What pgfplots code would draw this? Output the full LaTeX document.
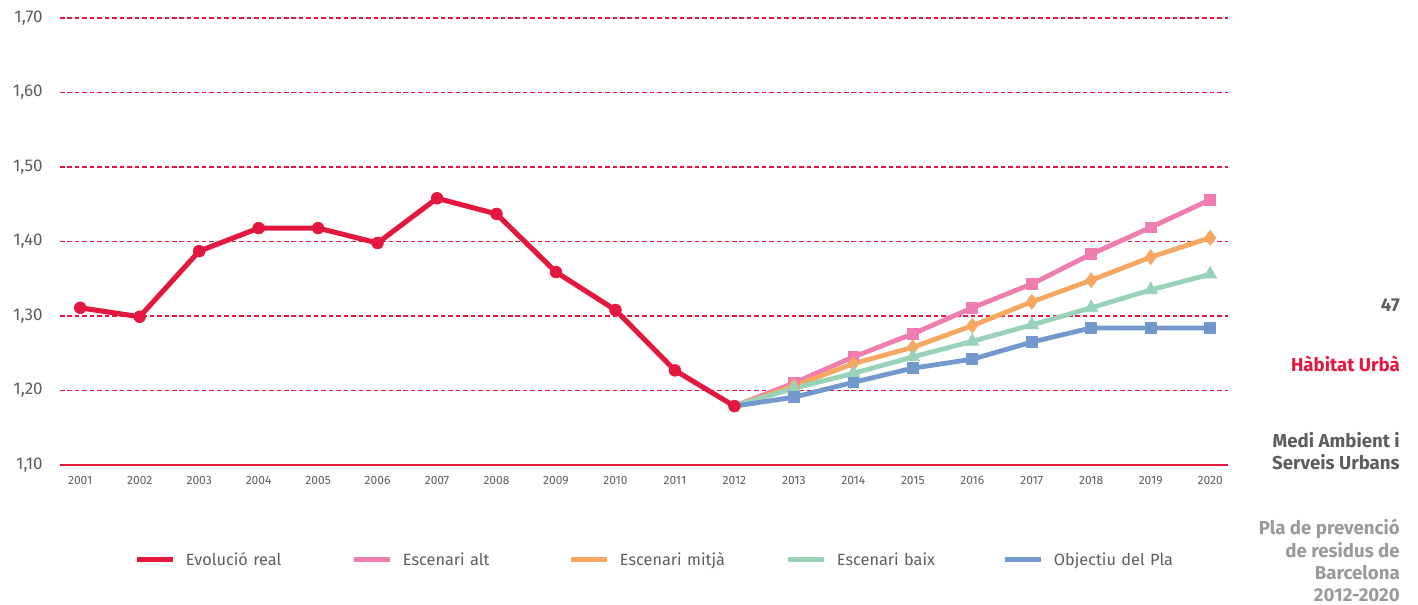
\documentclass[border=0pt]{standalone}
\usepackage{fontspec}
\setmainfont{Fira Sans}
\usepackage{pgfplots}
\pgfplotsset{compat=1.18}
\definecolor{cred}{HTML}{E4173E}
\definecolor{cpink}{HTML}{EF7DB0}
\definecolor{corange}{HTML}{F6A762}
\definecolor{cgreen}{HTML}{99D3B7}
\definecolor{cblue}{HTML}{7399CC}
\definecolor{tgray}{HTML}{5E5E5E}
\definecolor{lgray}{HTML}{9A9A9A}
\begin{document}
\begin{tikzpicture}
\path[use as bounding box] (0,0) rectangle (1063.5pt,-453.75pt);
\begin{axis}[
  at={(45pt,-348.75pt)}, anchor=south west,
  scale only axis, width=876pt, height=335.25pt,
  xmin=2000.66, xmax=2020.3, ymin=1.1, ymax=1.7,
  axis x line*=bottom, axis y line*=left,
  separate axis lines,
  x axis line style={cred, line width=1pt, -},
  y axis line style={draw=none},
  major tick length=0pt,
  ytick={1.1,1.2,1.3,1.4,1.5,1.6,1.7},
  xtick={2001,2002,2003,2004,2005,2006,2007,2008,2009,2010,2011,2012,2013,2014,2015,2016,2017,2018,2019,2020},
  xticklabels={2001,2002,2003,2004,2005,2006,2007,2008,2009,2010,2011,2012,2013,2014,2015,2016,2017,2018,2019,2020},
  /pgf/number format/assume math mode=true,
  yticklabel={\pgfmathprintnumber[fixed,fixed zerofill,precision=2,use comma]{\tick}},
  yticklabel style={font=\fontsize{12.75pt}{14pt}\selectfont, text=tgray, anchor=east, inner sep=0pt, xshift=-12.75pt},
  xticklabel style={font=\fontsize{9pt}{10pt}\selectfont, text=tgray, anchor=north, inner sep=0pt, yshift=-8.5pt},
  ymajorgrids,
  grid style={cred, line width=0.9pt, dash pattern=on 3.4pt off 2.2pt},
  legend image code/.code={\draw[#1] (0pt,0pt) -- (27pt,0pt);},
  legend columns=5,
  legend cell align=left,
  legend style={at={(0.0634,-0.2125)}, anchor=west, draw=none, fill=none, inner sep=0pt,
    font=\fontsize{12.2pt}{14pt}\selectfont, text=tgray,
    nodes={text width=124pt, inner sep=0pt},
    /tikz/every odd column/.append style={column sep=8pt}},
]
\addlegendimage{cred, line width=3.75pt}\addlegendentry{Evolució real}
\addlegendimage{cpink, line width=3.75pt}\addlegendentry{Escenari alt}
\addlegendimage{corange, line width=3.75pt}\addlegendentry{Escenari mitjà}
\addlegendimage{cgreen, line width=3.75pt}\addlegendentry{Escenari baix}
\addlegendimage{cblue, line width=3.75pt}\addlegendentry{Objectiu del Pla}

\addplot[cpink, line width=3.6pt, mark=square*, mark size=4.1pt, mark options={solid, line width=0.5pt}, mark indices={2,3,4,5,6,7,8,9}, forget plot] coordinates {
(2012,1.179) (2013,1.210) (2014,1.245) (2015,1.276) (2016,1.311) (2017,1.343) (2018,1.383) (2019,1.419) (2020,1.456)};
\addplot[corange, line width=3.6pt, mark=diamond*, mark size=5.6pt, mark options={solid, line width=0.5pt}, mark indices={2,3,4,5,6,7,8,9}, forget plot] coordinates {
(2012,1.179) (2013,1.206) (2014,1.236) (2015,1.258) (2016,1.287) (2017,1.319) (2018,1.348) (2019,1.379) (2020,1.405)};
\addplot[cgreen, line width=3.6pt, mark=triangle*, mark size=5.8pt, mark options={solid, line width=0.5pt}, mark indices={2,3,4,5,6,7,8,9}, forget plot] coordinates {
(2012,1.179) (2013,1.203) (2014,1.223) (2015,1.245) (2016,1.266) (2017,1.288) (2018,1.311) (2019,1.335) (2020,1.356)};
\addplot[cblue, line width=3.6pt, mark=square*, mark size=4.1pt, mark options={solid, line width=0.5pt}, mark indices={2,3,4,5,6,7,8,9}, forget plot] coordinates {
(2012,1.179) (2013,1.191) (2014,1.211) (2015,1.230) (2016,1.242) (2017,1.265) (2018,1.284) (2019,1.284) (2020,1.284)};
\addplot[cred, line width=3.8pt, mark=*, mark size=4.4pt, mark options={solid, line width=0.5pt}, forget plot] coordinates {
(2001,1.311) (2002,1.299) (2003,1.387) (2004,1.418) (2005,1.418) (2006,1.398) (2007,1.458) (2008,1.437) (2009,1.359) (2010,1.308) (2011,1.227) (2012,1.179)};
\end{axis}
\begin{scope}[every node/.style={anchor=base east, inner sep=0pt, font=\fontsize{14pt}{16pt}\selectfont\bfseries}]
\node[text=tgray] at (1050pt,-234pt) {47};
\node[text=cred] at (1050pt,-279pt) {Hàbitat Urbà};
\node[text=tgray] at (1050pt,-336pt) {Medi Ambient i};
\node[text=tgray] at (1050pt,-352.5pt) {Serveis Urbans};
\node[text=lgray] at (1050pt,-401.25pt) {Pla de prevenció};
\node[text=lgray] at (1050pt,-418.5pt) {de residus de};
\node[text=lgray] at (1050pt,-435pt) {Barcelona};
\node[text=lgray] at (1050pt,-451.5pt) {2012-2020};
\end{scope}
\end{tikzpicture}
\end{document}
